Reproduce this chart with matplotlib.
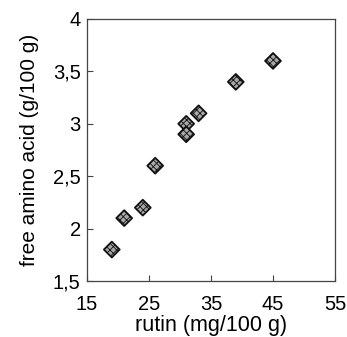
import matplotlib
matplotlib.use("Agg")
import matplotlib.pyplot as plt

rutin = [19, 21, 24, 26, 31, 31, 33, 39, 45]
amino = [1.8, 2.1, 2.2, 2.6, 3.0, 2.9, 3.1, 3.4, 3.6]
xticks = [15, 25, 35, 45, 55]
yticks = [1.5, 2, 2.5, 3, 3.5, 4]
ylabels = ["1,5", "2", "2,5", "3", "3,5", "4"]

plt.rcParams['font.family'] = ['Liberation Sans', 'DejaVu Sans']
plt.rcParams['hatch.color'] = '#444444'
plt.rcParams['hatch.linewidth'] = 0.6
fig = plt.figure(figsize=(3.47, 3.37), dpi=100)
ax = fig.add_axes([87/347, 1-281/337, (335-87)/347, (281-19)/337])
ax.scatter(rutin, amino, marker='D', s=65, facecolor='#a8a8a8', edgecolor='#111111',
           linewidths=1.3, hatch='xxxxx', zorder=3)
ax.set_xlim(15, 55)
ax.set_ylim(1.5, 4)
ax.set_xticks(xticks)
ax.set_xticklabels([str(t) for t in xticks])
ax.set_yticks(yticks)
ax.set_yticklabels(ylabels)
ax.tick_params(direction='in', length=4, width=0.8, labelsize=14.5, color='#444444')
ax.tick_params(axis='x', pad=10)
ax.tick_params(axis='y', pad=4.5)
for s in ax.spines.values():
    s.set_linewidth(0.9)
    s.set_color('#444444')
ax.set_xlabel("rutin (mg/100 g)", fontsize=15.5, labelpad=1)
ax.set_ylabel("free amino acid (g/100 g)", fontsize=15, labelpad=10)
fig.savefig("out.png", dpi=100)
